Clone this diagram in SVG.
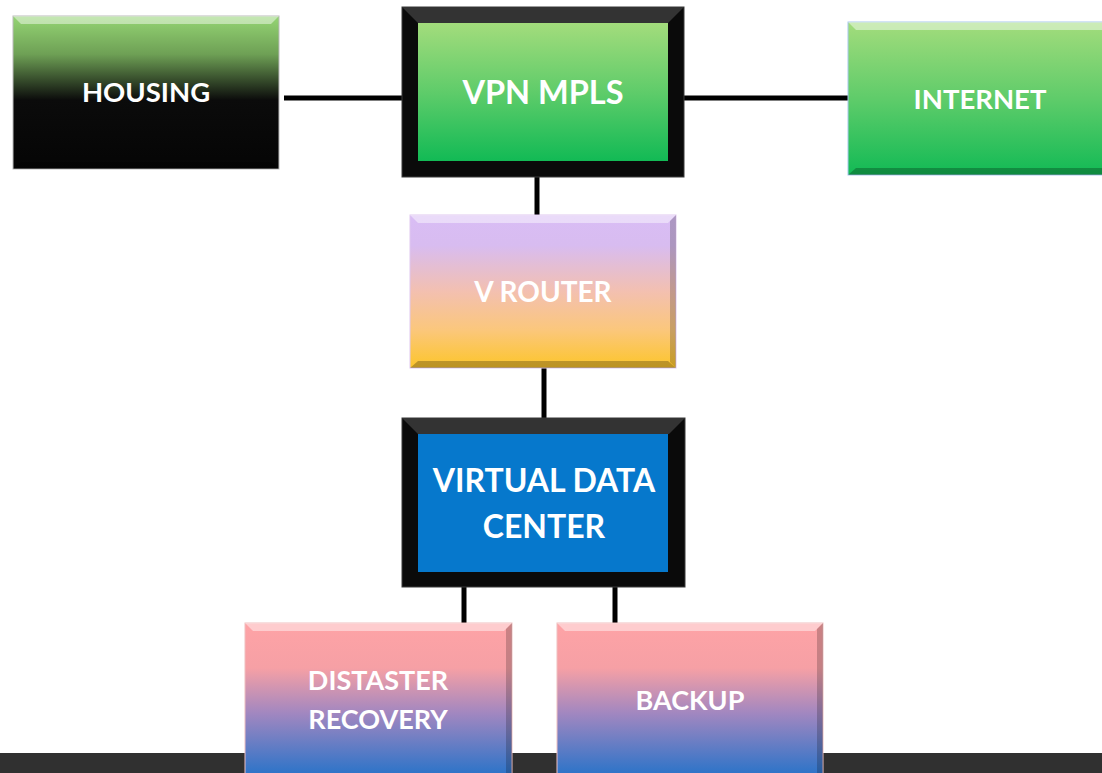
<svg xmlns="http://www.w3.org/2000/svg" width="1102" height="773" viewBox="0 0 1102 773">
<defs>
<linearGradient id="gHousing" x1="0" y1="0" x2="0" y2="1">
<stop offset="0" stop-color="#95d574"/>
<stop offset="0.25" stop-color="#6ea055"/>
<stop offset="0.55" stop-color="#0b0b0b"/>
<stop offset="1" stop-color="#050505"/>
</linearGradient>
<linearGradient id="gGreen" x1="0" y1="0" x2="0" y2="1">
<stop offset="0" stop-color="#a3dc7c"/>
<stop offset="0.5" stop-color="#5fcc6a"/>
<stop offset="1" stop-color="#12ba55"/>
</linearGradient>
<linearGradient id="gRouter" x1="0" y1="0" x2="0" y2="1">
<stop offset="0" stop-color="#d9bdf5"/>
<stop offset="0.2" stop-color="#d8bcf0"/>
<stop offset="0.5" stop-color="#f3c0b0"/>
<stop offset="0.75" stop-color="#fbc77c"/>
<stop offset="1" stop-color="#fcc52a"/>
</linearGradient>
<linearGradient id="gPinkDR" x1="0" y1="623" x2="0" y2="773" gradientUnits="userSpaceOnUse">
<stop offset="0" stop-color="#fea3a6"/>
<stop offset="0.3" stop-color="#f6a0a5"/>
<stop offset="0.6" stop-color="#a287c0"/>
<stop offset="1" stop-color="#2f74c8"/>
</linearGradient>
<style>
.lbl{font-family:Lato,"Open Sans","Liberation Sans",sans-serif;font-weight:bold;fill:#ffffff;text-anchor:middle}
.conn{stroke:#000;stroke-width:5;fill:none}
.hi{fill:#ffffff;opacity:0.45}
.sh{fill:#000000;opacity:0.25}
.side{fill:#000000;opacity:0.2}
.frame{fill:#0a0a0a;stroke:#3a3a3a;stroke-width:1}
.pink{fill:url(#gPinkDR);stroke:#f0c0c0;stroke-width:1}
</style>
</defs>
<rect x="0" y="753" width="1102" height="20" fill="#303030"/>
<g id="connectors">
<line class="conn" x1="284" y1="98" x2="402" y2="98"/>
<line class="conn" x1="684" y1="98" x2="848" y2="98"/>
<line class="conn" x1="537" y1="177" x2="537" y2="215"/>
<line class="conn" x1="544" y1="368" x2="544" y2="418"/>
<line class="conn" x1="464" y1="587" x2="464" y2="623"/>
<line class="conn" x1="615" y1="587" x2="615" y2="623"/>
</g>
<g id="housing">
<rect x="13" y="16" width="266" height="153" fill="url(#gHousing)" stroke="#bbbbbb" stroke-width="1"/>
<polygon class="hi" points="13,16 279,16 271,24 21,24"/>
<polygon class="sh" points="13,169 279,169 271,162 21,162"/>
<text class="lbl" x="146" y="102" font-size="27.5">HOUSING</text>
</g>
<g id="vpn-mpls">
<rect class="frame" x="402" y="7" width="282" height="170"/>
<polygon fill="#333" points="402,7 684,7 668,23 418,23"/>
<rect x="418" y="23" width="250" height="138" fill="url(#gGreen)"/>
<text class="lbl" x="543" y="104" font-size="32.5">VPN MPLS</text>
</g>
<g id="internet">
<rect x="848" y="22" width="260" height="153" fill="url(#gGreen)" stroke="#a8c8ee" stroke-width="1"/>
<polygon class="hi" points="848,22 1102,22 1102,30 856,30"/>
<polygon class="sh" points="848,175 1102,175 1102,168 856,168"/>
<text class="lbl" x="980" y="109" font-size="27.5">INTERNET</text>
</g>
<g id="v-router">
<rect x="410" y="215" width="266" height="153" fill="url(#gRouter)" stroke="#e0c8f0" stroke-width="1"/>
<polygon class="hi" points="410,215 676,215 668,223 418,223"/>
<polygon class="sh" points="410,368 676,368 668,361 418,361"/>
<polygon class="side" points="676,215 676,368 670,362 670,221"/>
<text class="lbl" x="543" y="302" font-size="28">V ROUTER</text>
</g>
<g id="virtual-data-center">
<rect class="frame" x="402" y="418" width="283" height="169"/>
<polygon fill="#333" points="402,418 685,418 669,434 418,434"/>
<rect x="418" y="434" width="250" height="138" fill="#0678cc"/>
<text class="lbl" x="544" y="492" font-size="32">VIRTUAL DATA</text>
<text class="lbl" x="544" y="538" font-size="32">CENTER</text>
</g>
<g id="disaster-recovery">
<rect class="pink" x="245" y="623" width="267" height="160"/>
<polygon class="hi" points="245,623 512,623 504,631 253,631"/>
<polygon class="side" points="512,623 512,773 506,773 506,629"/>
<text class="lbl" x="378" y="690" font-size="27">DISTASTER</text>
<text class="lbl" x="378" y="729" font-size="27">RECOVERY</text>
</g>
<g id="backup">
<rect class="pink" x="557" y="623" width="266" height="160"/>
<polygon class="hi" points="557,623 823,623 815,631 565,631"/>
<polygon class="side" points="823,623 823,773 817,773 817,629"/>
<text class="lbl" x="690" y="710" font-size="27">BACKUP</text>
</g>
</svg>
